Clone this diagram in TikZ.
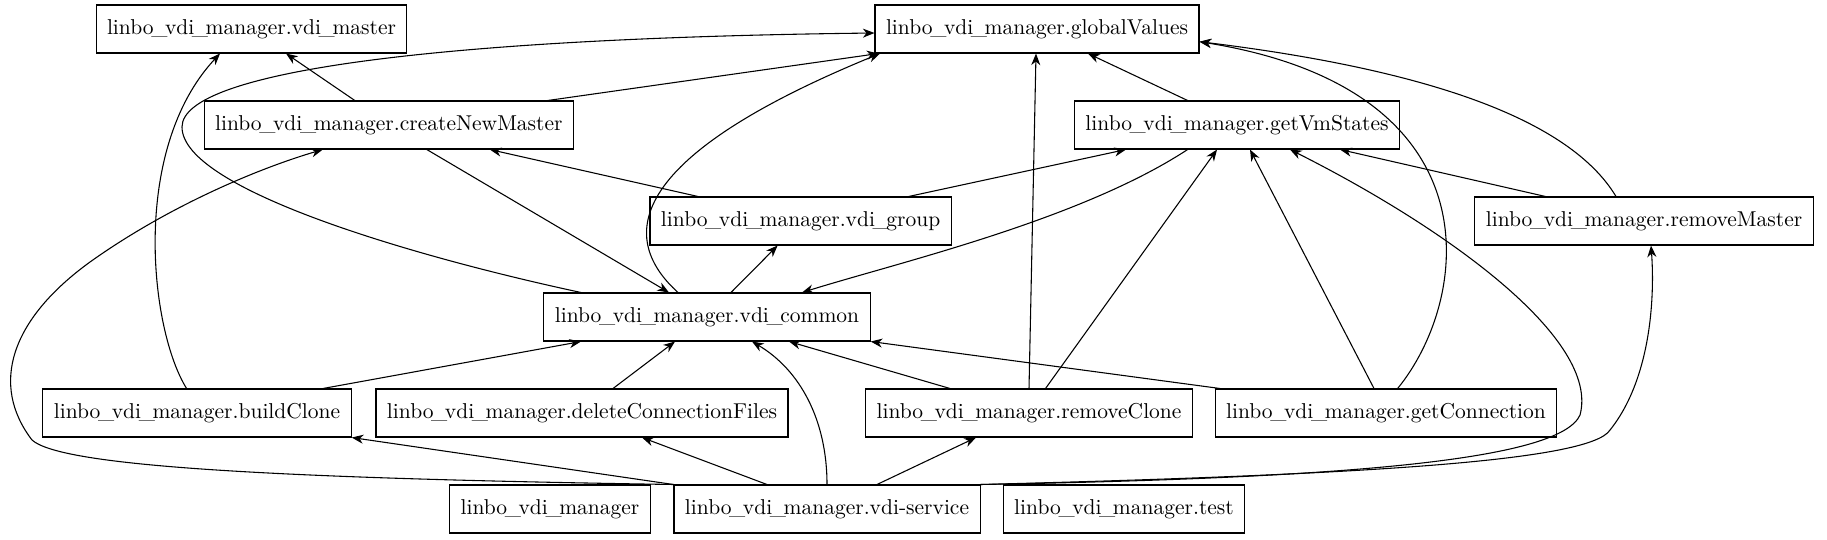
\documentclass[tikz,border=0pt]{standalone}
\usepackage{tikz}
\usetikzlibrary{arrows.meta, calc}
\newcommand{\us}{\kern-1.1pt\_\kern-1.1pt}

\begin{document}
\begin{tikzpicture}[x=0.465pt, y=-0.465pt, >={Stealth[length=5.4pt, width=4.2pt, inset=1.7pt]},
    mod/.style={draw, line width=0.5pt, rectangle, inner xsep=5.1pt, inner ysep=0pt, minimum height=22.3pt},
    dep/.style={->, line width=0.5pt}]
    \useasboundingbox (0,0) rectangle (1827,539);

    % Modules, top row to bottom row
    \node[mod] (vm)  at (251.5,29) {linbo\us vdi\us manager.vdi\us master};
    \node[mod] (gv)  at (1037,29)  {linbo\us vdi\us manager.globalValues};
    \node[mod] (cnm) at (388.8,125) {linbo\us vdi\us manager.createNewMaster};
    \node[mod] (gvs) at (1237,125) {linbo\us vdi\us manager.getVmStates};
    \node[mod] (grp) at (800.6,221) {linbo\us vdi\us manager.vdi\us group};
    \node[mod] (rmm) at (1644,221) {linbo\us vdi\us manager.removeMaster};
    \node[mod] (com) at (707,317)  {linbo\us vdi\us manager.vdi\us common};
    \node[mod] (bc)  at (197,413)  {linbo\us vdi\us manager.buildClone};
    \node[mod] (dcf) at (582,413)  {linbo\us vdi\us manager.deleteConnectionFiles};
    \node[mod] (rmc) at (1029,413) {linbo\us vdi\us manager.removeClone};
    \node[mod] (gc)  at (1386,413) {linbo\us vdi\us manager.getConnection};
    \node[mod] (mgr) at (550,509)  {linbo\us vdi\us manager};
    \node[mod] (svc) at (827,509)  {linbo\us vdi\us manager.vdi-service};
    \node[mod] (tst) at (1124,509) {linbo\us vdi\us manager.test};

    % createNewMaster
    \draw[dep] ($(cnm.north)+(-34,0)$) -- ($(vm.south)+(34.5,0)$);
    \draw[dep] ($(cnm.north)+(159,0)$) -- ($(gv.south)+(-158.5,0)$);
    \draw[dep] ($(cnm.south)+(38,0)$) -- ($(com.north)+(-38,0)$);

    % vdi_common
    \draw[dep] ($(com.north)+(-126,0)$) .. controls (420,258) and (182,190) .. (182,127)
        .. controls (182,70) and (450,38) .. ($(gv.west)+(0,4)$);
    \draw[dep] ($(com.north)+(-29,0)$) .. controls (620,240) and (620,160) .. ($(gv.south)+(-157,0)$);
    \draw[dep] ($(com.north)+(24,0)$) -- ($(grp.south)+(-23,0)$);

    % getVmStates
    \draw[dep] ($(gvs.north)+(-49.4,0)$) -- ($(gv.south)+(51,0)$);
    \draw[dep] ($(gvs.south)+(-49.4,0)$) .. controls (1080,220) and (900,262) .. ($(com.north)+(95,0)$);

    % vdi_group
    \draw[dep] ($(grp.north)+(-102.6,0)$) -- ($(cnm.south)+(101,0)$);
    \draw[dep] ($(grp.north)+(108,0)$) -- ($(gvs.south)+(-111,0)$);

    % removeMaster
    \draw[dep] ($(rmm.north)+(-28,0)$) .. controls (1570,120) and (1430,70) .. ($(gv.east)+(0,12.7)$);
    \draw[dep] ($(rmm.north)+(-98.5,0)$) -- ($(gvs.south)+(103,0)$);

    % buildClone
    \draw[dep] ($(bc.north)+(-10.4,0)$) .. controls (150,330) and (130,150) .. ($(vm.south)+(-31.5,0)$);
    \draw[dep] ($(bc.north)+(126,0)$) -- ($(com.south)+(-126,0)$);

    % deleteConnectionFiles
    \draw[dep] ($(dcf.north)+(31,0)$) -- ($(com.south)+(-32,0)$);

    % removeClone
    \draw[dep] (rmc.north) -- ($(gv.south)+(-1,0)$);
    \draw[dep] ($(rmc.north)+(16.5,0)$) -- ($(gvs.south)+(-20,0)$);
    \draw[dep] ($(rmc.north)+(-79,0)$) -- ($(com.south)+(82,0)$);

    % getConnection
    \draw[dep] ($(gc.north)+(11.6,0)$) .. controls (1470,300) and (1500,90) .. ($(gv.east)+(0,12.7)$);
    \draw[dep] ($(gc.north)+(-12,0)$) -- ($(gvs.south)+(13,0)$);
    \draw[dep] ($(gc.north)+(-166,0)$) -- (com.south east);

    % vdi-service
    \draw[dep] (svc.north west) .. controls (250,478) and (60,465) .. (32,440)
        .. controls (-10,385) and (10,320) .. (90,262)
        .. controls (170,205) and (260,168) .. ($(cnm.south)+(-66,0)$);
    \draw[dep] (svc.north west) -- (bc.south east);
    \draw[dep] ($(svc.north)+(-60,0)$) -- ($(dcf.south)+(60,0)$);
    \draw[dep] (svc.north) .. controls (827,420) and (800,370) .. ($(com.south)+(45,0)$);
    \draw[dep] ($(svc.north)+(50,0)$) -- ($(rmc.south)+(-53,0)$);
    \draw[dep] (svc.north east) .. controls (1350,478) and (1560,460) .. (1580,415)
        .. controls (1600,340) and (1450,230) .. ($(gvs.south)+(53,0)$);
    \draw[dep] (svc.north east) .. controls (1350,475) and (1590,462) .. (1610,430)
        .. controls (1650,380) and (1655,300) .. ($(rmm.south)+(7,0)$);
  \end{tikzpicture}
\end{document}
